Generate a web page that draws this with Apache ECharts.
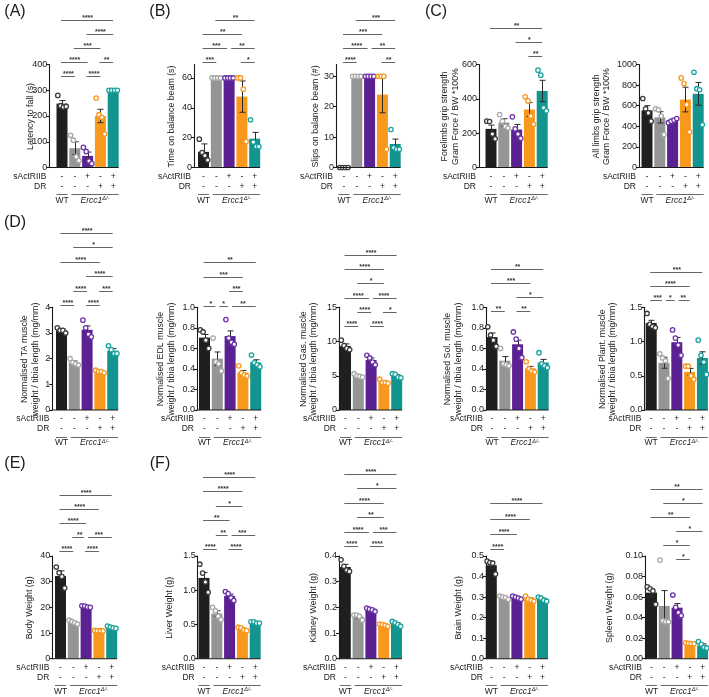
<!DOCTYPE html>
<html><head><meta charset="utf-8">
<script src="https://cdn.jsdelivr.net/npm/echarts@6/dist/echarts.min.js"></script>
<style>html,body{margin:0;padding:0;background:#fff}#c{width:709px;height:697px}</style>
</head><body><div id="c"></div>
<script>
// ---------------- DATA ----------------
const groups = ['WT', 'Ercc1 vehicle', 'Ercc1 sActRIIB', 'Ercc1 DR', 'Ercc1 DR + sActRIIB'];
const sActRIIBRow = ['-', '-', '+', '-', '+'];
const drRow = ['-', '-', '-', '+', '+'];

// (A) Latency to fall
const latencyMean = [248, 75, 45, 200, 300];
const latencyErr = [12, 25, 15, 26, 0];
const latencyPts = [[280, 240, 235, 237], [125, 106, 42, 27], [78, 62, 25, 15], [270, 205, 195, 130], [300, 300, 300, 300]];
const latencyTicks = [0, 100, 200, 300, 400];
const latencySig = [[0,1,'****',0],[2,3,'****',0],[0,2,'****',1],[3,4,'**',1],[1,3,'***',2],[2,4,'****',3],[0,4,'****',4]];

// (B) Time on balance beam
const timeMean = [10.5, 60, 60, 47.5, 19.3];
const timeErr = [5.3, 0, 0, 10.5, 4.2];
const timePts = [[19, 10, 8, 5], [60, 60, 60, 60], [60, 60, 60, 60], [60, 60, 52.5, 17.5], [32, 17, 14, 14]];
const timeTicks = [0, 20, 40, 60];
const timeSig = [[0,1,'***',0],[3,4,'*',0],[0,2,'***',1],[2,4,'**',1],[0,3,'**',2],[1,4,'**',3]];

// (B) Slips on balance beam
const slipsMean = [0, 30, 30, 24, 7.75];
const slipsErr = [0, 0, 0, 6, 1.6];
const slipsPts = [[0, 0, 0, 0], [30, 30, 30, 30], [30, 30, 30, 30], [30, 30, 30, 6], [12.5, 6.5, 6, 6]];
const slipsTicks = [0, 10, 20, 30];
const slipsSig = [[0,1,'****',0],[3,4,'**',0],[0,2,'****',1],[2,4,'**',1],[0,3,'***',2],[1,4,'***',3]];

// (C) Forelimbs grip strength
const foreMean = [225, 262, 221, 338, 446];
const foreErr = [22, 22, 30, 40, 62];
const forePts = [[270, 268, 195, 167], [308, 270, 240, 230], [295, 225, 195, 170], [412, 388, 300, 252], [567, 538, 348, 330]];
const foreTicks = [0, 200, 400, 600];
const foreSig = [[3,4,'**',0],[2,4,'*',1],[0,4,'**',2]];

// (C) All limbs grip strength
const allMean = [555, 487, 455, 660, 715];
const allErr = [45, 55, 15, 120, 110];
const allPts = [[670, 570, 530, 450], [570, 560, 500, 320], [435, 450, 460, 475], [870, 815, 610, 345], [925, 765, 755, 415]];
const allTicks = [0, 200, 400, 600, 800, 1000];
const allSig = [];

// (D) TA
const taMean = [3.1, 1.85, 3.125, 1.5, 2.31];
const taErr = [0.05, 0.06, 0.15, 0.02, 0.08];
const taPts = [[3.2, 3.1, 3.1, 3.0], [2.0, 1.85, 1.8, 1.75], [3.5, 3.2, 2.95, 2.85], [1.55, 1.5, 1.5, 1.45], [2.5, 2.35, 2.2, 2.2]];
const taTicks = [0, 1, 2, 3, 4];
const taSig = [[0,1,'****',0],[2,3,'****',0],[1,2,'****',1],[3,4,'***',1],[2,4,'****',2],[0,3,'****',3],[1,4,'*',4],[0,4,'****',5]];

// (D) EDL
const edlMean = [0.705, 0.5, 0.72, 0.365, 0.464];
const edlErr = [0.03, 0.065, 0.05, 0.02, 0.025];
const edlPts = [[0.78, 0.76, 0.68, 0.6], [0.7, 0.47, 0.45, 0.38], [0.88, 0.7, 0.66, 0.64], [0.43, 0.36, 0.34, 0.33], [0.535, 0.46, 0.44, 0.42]];
const edlTicks = [0, 0.2, 0.4, 0.6, 0.8, 1.0];
const edlSig = [[0,1,'*',0],[1,2,'*',0],[2,4,'**',0],[2,3,'***',1],[0,3,'***',2],[0,4,'**',3]];

// (D) Gas.
const gasMean = [9.35, 5.0, 7.3, 4.1, 5.0];
const gasErr = [0.3, 0.1, 0.3, 0.15, 0.15];
const gasPts = [[10.2, 9.4, 9.0, 8.8], [5.3, 5.0, 4.9, 4.8], [8.0, 7.6, 7.0, 6.6], [4.5, 4.0, 4.0, 3.9], [5.3, 5.2, 4.8, 4.7]];
const gasTicks = [0, 5, 10, 15];
const gasSig = [[0,1,'****',0],[2,3,'****',0],[1,2,'****',1],[3,4,'*',1],[0,2,'****',2],[2,4,'****',2],[1,3,'*',3],[0,3,'****',4],[0,4,'****',5]];

// (D) Sol.
const solMean = [0.71, 0.48, 0.64, 0.405, 0.4625];
const solErr = [0.04, 0.04, 0.04, 0.02, 0.03];
const solPts = [[0.81, 0.73, 0.68, 0.62], [0.6, 0.45, 0.44, 0.43], [0.76, 0.69, 0.6, 0.51], [0.47, 0.4, 0.38, 0.37], [0.558, 0.45, 0.43, 0.412]];
const solTicks = [0, 0.2, 0.4, 0.6, 0.8, 1.0];
const solSig = [[0,1,'**',0],[2,3,'**',0],[2,4,'*',1],[0,3,'***',2],[0,4,'**',3]];

// (D) Plant.
const plantMean = [1.27, 0.69, 0.99, 0.5575, 0.76];
const plantErr = [0.04, 0.08, 0.07, 0.05, 0.09];
const plantPts = [[1.41, 1.25, 1.22, 1.2], [0.82, 0.76, 0.72, 0.46], [1.17, 1.05, 0.95, 0.8], [0.64, 0.64, 0.5, 0.45], [1.02, 0.8, 0.7, 0.52]];
const plantTicks = [0, 0.5, 1.0, 1.5];
const plantSig = [[0,1,'***',0],[1,2,'*',0],[2,3,'**',0],[0,3,'****',1],[0,4,'***',2]];

// (E) Body weight
const bodyMean = [32.2, 14.25, 20.3, 10.9, 12.2];
const bodyErr = [2.0, 0.4, 0.3, 0.1, 0.25];
const bodyPts = [[35.7, 33.5, 32, 27.5], [15, 14.5, 14, 13.5], [20.6, 20.5, 20.1, 20], [11, 10.9, 10.9, 10.8], [12.7, 12.3, 12, 11.8]];
const bodyTicks = [0, 10, 20, 30, 40];
const bodySig = [[0,1,'****',0],[2,3,'****',0],[1,2,'**',1],[2,4,'***',1],[0,2,'****',2],[0,3,'****',3],[0,4,'****',4]];

// (F) Liver
const liverMean = [1.18, 0.66, 0.9175, 0.435, 0.53];
const liverErr = [0.08, 0.04, 0.025, 0.012, 0.01];
const liverPts = [[1.38, 1.25, 1.12, 0.97], [0.75, 0.7, 0.62, 0.57], [0.98, 0.95, 0.89, 0.85], [0.46, 0.45, 0.42, 0.41], [0.54, 0.54, 0.52, 0.52]];
const liverTicks = [0, 0.5, 1.0, 1.5];
const liverSig = [[0,1,'****',0],[2,3,'****',0],[1,2,'**',1],[2,4,'***',1],[0,2,'**',2],[1,3,'*',3],[0,3,'****',4],[0,4,'****',5]];

// (F) Kidney
const kidneyMean = [0.3575, 0.164, 0.191, 0.131, 0.136];
const kidneyErr = [0.01, 0.005, 0.003, 0.003, 0.004];
const kidneyPts = [[0.385, 0.36, 0.345, 0.34], [0.17, 0.17, 0.165, 0.151], [0.197, 0.193, 0.19, 0.184], [0.135, 0.133, 0.13, 0.126], [0.145, 0.14, 0.133, 0.126]];
const kidneyTicks = [0, 0.1, 0.2, 0.3, 0.4];
const kidneySig = [[0,1,'****',0],[2,3,'****',0],[0,2,'****',1],[2,4,'***',1],[1,3,'**',2],[0,3,'****',3],[1,4,'*',4],[0,4,'****',5]];

// (F) Brain
const brainMean = [0.455, 0.298, 0.2975, 0.29, 0.29];
const brainErr = [0.015, 0.004, 0.003, 0.006, 0.004];
const brainPts = [[0.475, 0.468, 0.465, 0.412], [0.305, 0.3, 0.298, 0.289], [0.305, 0.3, 0.295, 0.29], [0.305, 0.29, 0.285, 0.28], [0.3, 0.295, 0.285, 0.28]];
const brainTicks = [0, 0.1, 0.2, 0.3, 0.4, 0.5];
const brainSig = [[0,1,'****',0],[0,2,'****',1],[0,3,'****',2],[0,4,'****',3]];

// (F) Spleen
const spleenMean = [0.0643, 0.0513, 0.0497, 0.0149, 0.0129];
const spleenErr = [0.004, 0.015, 0.004, 0.0006, 0.0015];
const spleenPts = [[0.07, 0.068, 0.066, 0.053], [0.096, 0.037, 0.036, 0.036], [0.062, 0.05, 0.045, 0.042], [0.0155, 0.015, 0.0148, 0.0145], [0.0166, 0.014, 0.0111, 0.0103]];
const spleenTicks = [0, 0.02, 0.04, 0.06, 0.08, 0.10];
const spleenSig = [[2,3,'*',0],[1,3,'*',1],[2,4,'*',2],[0,3,'**',3],[1,4,'*',4],[0,4,'**',5]];

// ---------------- STYLE / LAYOUT ----------------
const FONT = '"Liberation Sans", Arial, sans-serif';
const INK = '#1a1a1a';
const BAR = ['#1f1f1f', '#959595', '#5b2192', '#f8981d', '#13948f'];
const RING = ['#3c3c3c', '#a8a8a8', '#6c34a8', '#f8981d', '#1aa39f'];
const ERRC = '#2a2a2a';
const BRC = '#555555';
const W = 12.8;
const JIT = [-4.2, -1.4, 1.4, 4.2];
const NT = 'weight / tibia length (mg/mm)';

const panels = [
  {mean: latencyMean, err: latencyErr, pts: latencyPts, ticks: latencyTicks, sig: latencySig, max: 400, dec: 0, title: ['Latency to fall (s)'],
   letter: '(A)', lx: 15, ly: 12, axisX: 49.3, c0: 62, top: 64.5, y0: 167.5, brBase: 76, brStep: 14, tx: 30.5},
  {mean: timeMean, err: timeErr, pts: timePts, ticks: timeTicks, sig: timeSig, max: 69, dec: 0, title: ['Time on balance beam (s)'],
   letter: '(B)', lx: 160, ly: 12, axisX: 194, c0: 203.5, top: 64.5, y0: 167.5, brBase: 62, brStep: 14, tx: 172},
  {mean: slipsMean, err: slipsErr, pts: slipsPts, ticks: slipsTicks, sig: slipsSig, max: 33.9, dec: 0, title: ['Slips on balance beam (#)'],
   axisX: 336, c0: 344, top: 64.5, y0: 167.5, brBase: 62, brStep: 14, tx: 316},
  {mean: foreMean, err: foreErr, pts: forePts, ticks: foreTicks, sig: foreSig, max: 600, dec: 0, title: ['Forelimbs grip strength', 'Gram Force / BW *100%'],
   letter: '(C)', lx: 436, ly: 12, axisX: 479, c0: 491, top: 64.5, y0: 167.5, brBase: 55.5, brStep: 14, tx: 450},
  {mean: allMean, err: allErr, pts: allPts, ticks: allTicks, sig: allSig, max: 1000, dec: 0, title: ['All limbs grip strength', 'Gram Force / BW *100%'],
   axisX: 639, c0: 647, top: 64.5, y0: 167.5, brBase: 55, brStep: 14, tx: 601.7},
  {mean: taMean, err: taErr, pts: taPts, ticks: taTicks, sig: taSig, max: 4, dec: 0, title: ['Normalised TA muscle', NT],
   letter: '(D)', lx: 15, ly: 223, axisX: 52.3, c0: 61.5, top: 307.3, y0: 410, brBase: 305, brStep: 14.5, tx: 30},
  {mean: edlMean, err: edlErr, pts: edlPts, ticks: edlTicks, sig: edlSig, max: 1.0, dec: 1, title: ['Normalised EDL muscle', NT],
   axisX: 197, c0: 204.5, top: 307.3, y0: 410, brBase: 305.5, brStep: 14.4, tx: 166.3},
  {mean: gasMean, err: gasErr, pts: gasPts, ticks: gasTicks, sig: gasSig, max: 15, dec: 0, title: ['Normalised Gas. muscle', NT],
   axisX: 339, c0: 345.5, top: 307.3, y0: 410, brBase: 325.7, brStep: 14.1, tx: 308.7},
  {mean: solMean, err: solErr, pts: solPts, ticks: solTicks, sig: solSig, max: 1.0, dec: 1, title: ['Normalised Sol. muscle', NT],
   axisX: 486, c0: 492, top: 307.3, y0: 410, brBase: 311, brStep: 13.9, tx: 453.3},
  {mean: plantMean, err: plantErr, pts: plantPts, ticks: plantTicks, sig: plantSig, max: 1.5, dec: 1, title: ['Normalised Plant. muscle', NT],
   axisX: 644.5, c0: 651.2, top: 307.3, y0: 410, brBase: 300, brStep: 14, tx: 607.5},
  {mean: bodyMean, err: bodyErr, pts: bodyPts, ticks: bodyTicks, sig: bodySig, max: 40, dec: 0, title: ['Body Weight (g)'],
   letter: '(E)', lx: 15, ly: 464, axisX: 52.3, c0: 60.5, top: 556, y0: 658.7, brBase: 551, brStep: 14, tx: 29.3},
  {mean: liverMean, err: liverErr, pts: liverPts, ticks: liverTicks, sig: liverSig, max: 1.5, dec: 1, title: ['Liver Weight (g)'],
   letter: '(F)', lx: 160, ly: 464, axisX: 197.7, c0: 204, top: 556, y0: 658.7, brBase: 549, brStep: 14.45, tx: 170},
  {mean: kidneyMean, err: kidneyErr, pts: kidneyPts, ticks: kidneyTicks, sig: kidneySig, max: 0.4, dec: 1, title: ['Kidney Weight (g)'],
   axisX: 339, c0: 345.3, top: 556, y0: 658.7, brBase: 546, brStep: 14.4, tx: 313.3},
  {mean: brainMean, err: brainErr, pts: brainPts, ticks: brainTicks, sig: brainSig, max: 0.5, dec: 1, title: ['Brain Weight (g)'],
   axisX: 486, c0: 491.3, top: 556, y0: 658.7, brBase: 549, brStep: 15.2, tx: 459},
  {mean: spleenMean, err: spleenErr, pts: spleenPts, ticks: spleenTicks, sig: spleenSig, max: 0.10, dec: 2, title: ['Spleen Weight (g)'],
   axisX: 645, c0: 651.5, top: 556, y0: 658.7, brBase: 559.3, brStep: 14, tx: 610},
];

const option = {animation: false, backgroundColor: '#fff', grid: [], xAxis: [], yAxis: [], series: [], graphic: []};

function line(x1, y1, x2, y2, color, w) {
  return {type: 'line', shape: {x1, y1, x2, y2}, style: {stroke: color, lineWidth: w}, silent: true};
}
function txt(x, y, text, size, align) {
  return {type: 'text', x, y, silent: true,
    style: {text, fill: INK, fontSize: size, fontFamily: FONT, align: align || 'center', verticalAlign: 'middle'}};
}

panels.forEach((p, k) => {
  const left = p.c0 - W / 2;
  option.grid.push({left, top: p.top, width: 5 * W, height: p.y0 - p.top});
  option.xAxis.push({type: 'category', gridIndex: k, data: groups, axisLine: {show: false}, axisTick: {show: false},
    axisLabel: {show: false}, splitLine: {show: false}});
  option.yAxis.push({type: 'value', gridIndex: k, min: 0, max: p.max, interval: p.ticks[1] - p.ticks[0], offset: left - p.axisX,
    axisLine: {show: true, onZero: false, lineStyle: {color: INK, width: 1.1}},
    axisTick: {show: true, length: 3, lineStyle: {color: INK, width: 1.1}, customValues: p.ticks},
    axisLabel: {fontSize: 9, color: INK, fontFamily: FONT, margin: 2, customValues: p.ticks,
      formatter: v => Number(v).toFixed(p.dec)},
    splitLine: {show: false}});

  // bars
  option.series.push({type: 'bar', xAxisIndex: k, yAxisIndex: k, barWidth: 11, silent: true, z: 2,
    data: p.mean.map((v, i) => ({value: v, itemStyle: {color: BAR[i]}}))});

  // error bars
  option.series.push({type: 'custom', xAxisIndex: k, yAxisIndex: k, silent: true, z: 3, clip: false,
    data: p.mean.map((v, i) => [i, v, p.err[i]]),
    renderItem: (params, api) => {
      const i = api.value(0), m = api.value(1), e = api.value(2);
      if (!(e > 0)) return null;
      const t = api.coord([i, m + e]), b = api.coord([i, m - e]);
      const x = Math.round(t[0]) + 0.5;
      return {type: 'group', children: [
        line(x, t[1], x, b[1], ERRC, 1), line(x - 3, t[1], x + 3, t[1], ERRC, 1), line(x - 3, b[1], x + 3, b[1], ERRC, 1)]};
    }});

  // individual points
  const ptData = [];
  p.pts.forEach((arr, i) => arr.forEach((v, j) => ptData.push([i, v, j])));
  option.series.push({type: 'custom', xAxisIndex: k, yAxisIndex: k, silent: true, z: 4, clip: false, data: ptData,
    renderItem: (params, api) => {
      const i = api.value(0), v = api.value(1), j = api.value(2);
      const c = api.coord([i, v]);
      return {type: 'circle', shape: {cx: c[0] + JIT[j], cy: c[1], r: 2.2},
        style: {fill: '#ffffff', stroke: RING[i], lineWidth: 1.3}};
    }});

  // annotations: x axis line, significance brackets, treatment table
  option.series.push({type: 'custom', xAxisIndex: k, yAxisIndex: k, silent: true, z: 5, clip: false, data: [[0, 0]],
    renderItem: (params, api) => {
      const cx = [0, 1, 2, 3, 4].map(i => api.coord([i, 0])[0]);
      const y0 = api.coord([0, 0])[1];
      const ch = [];
      ch.push(line(p.axisX - 0.5, y0, cx[4] + W / 2 - 1, y0, INK, 1.1));
      p.sig.forEach(s => {
        const [a, b, stars, lev] = s;
        const shA = p.sig.some(o => o !== s && o[3] === lev && o[1] === a);
        const shB = p.sig.some(o => o !== s && o[3] === lev && o[0] === b);
        const x1 = cx[a] + (shA ? 2 : -1), x2 = cx[b] + (shB ? -2 : 0);
        const y = Math.round(p.brBase - lev * p.brStep) + 0.5;
        ch.push(line(x1, y, x2, y, BRC, 0.9));
        ch.push({type: 'text', x: (cx[a] + cx[b]) / 2, y: y - 2.2, silent: true,
          style: {text: stars, fill: '#333', fontSize: 7, fontFamily: FONT, align: 'center', verticalAlign: 'middle', fontWeight: 'bold'}});
      });
      for (let i = 0; i < 5; i++) {
        ch.push(txt(cx[i], y0 + 9, sActRIIBRow[i], 8.5));
        ch.push(txt(cx[i], y0 + 19, drRow[i], 8.5));
      }
      ch.push(txt(p.axisX - 3, y0 + 9, 'sActRIIB', 8.5, 'right'));
      ch.push(txt(p.axisX - 3, y0 + 19, 'DR', 8.5, 'right'));
      const uy = Math.round(y0 + 26.5) + 0.5;
      ch.push(line(cx[0] - 5.5, uy, cx[0] + 5.5, uy, '#444', 0.8));
      ch.push(line(cx[1] - 3.5, uy, cx[4] + 5.5, uy, '#444', 0.8));
      ch.push(txt(cx[0], y0 + 33, 'WT', 8.5));
      ch.push({type: 'text', x: (cx[1] + cx[4]) / 2 + 1, y: y0 + 33, silent: true,
        style: {text: '{i|Ercc1}{s|Δ/-}', fill: INK, fontFamily: FONT, align: 'center', verticalAlign: 'middle',
          rich: {i: {fontStyle: 'italic', fontSize: 8.5, fontFamily: FONT, fill: INK, lineHeight: 10},
                 s: {fontStyle: 'italic', fontSize: 5.5, fontFamily: FONT, fill: INK, verticalAlign: 'top', lineHeight: 10}}}});
      return {type: 'group', children: ch};
    }});

  // axis title
  option.graphic.push({type: 'text', x: p.tx, y: (p.top + p.y0) / 2 + 0.5, rotation: Math.PI / 2, silent: true,
    style: {text: p.title.join('\n'), fill: INK, fontSize: 8.8, fontFamily: FONT, align: 'center', verticalAlign: 'middle', lineHeight: 10.5}});
  if (p.letter) {
    option.graphic.push({type: 'text', x: p.lx, y: p.ly, silent: true,
      style: {text: p.letter, fill: INK, fontSize: 16, fontFamily: FONT, align: 'center', verticalAlign: 'middle'}});
  }
});

const chart = echarts.init(document.getElementById('c'), null, {renderer: 'canvas', width: 709, height: 697});
chart.setOption(option);
</script>
</body></html>
